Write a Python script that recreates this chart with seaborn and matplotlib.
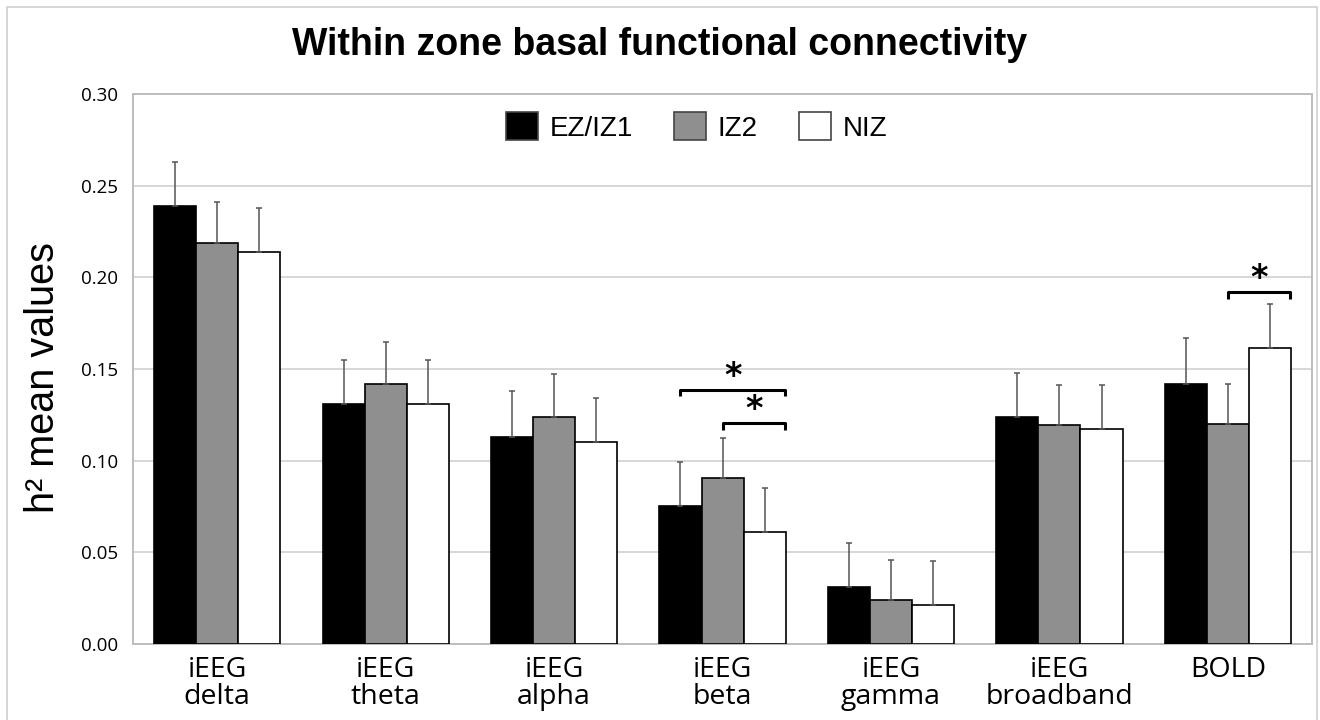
import matplotlib
matplotlib.use("Agg")
import matplotlib.pyplot as plt
import seaborn as sns
import pandas as pd
from matplotlib.patches import Rectangle

# Valores (h2 medio y error superior)
bandas = ['iEEG\ndelta', 'iEEG\ntheta', 'iEEG\nalpha', 'iEEG\nbeta',
          'iEEG\ngamma', 'iEEG\nbroadband', 'BOLD']
zonas = ['EZ/IZ1', 'IZ2', 'NIZ']

media_ez = [0.239, 0.131, 0.113, 0.0755, 0.031, 0.1237, 0.142]
media_iz2 = [0.219, 0.142, 0.124, 0.0905, 0.024, 0.1195, 0.120]
media_niz = [0.214, 0.131, 0.110, 0.061, 0.0215, 0.117, 0.1615]

error_ez = [0.024, 0.024, 0.025, 0.024, 0.024, 0.024, 0.025]
error_iz2 = [0.022, 0.023, 0.023, 0.022, 0.022, 0.022, 0.022]
error_niz = [0.024, 0.024, 0.024, 0.024, 0.024, 0.024, 0.024]

# Comparaciones significativas: (banda, zona desde, zona hasta, altura)
signif = [(3, 0, 2, 0.1386), (3, 1, 2, 0.1204), (6, 1, 2, 0.1918)]

colores = ['#000000', '#8f8f8f', '#ffffff']

df = pd.DataFrame({
    'Banda': bandas * 3,
    'Zona': [z for z in zonas for _ in bandas],
    'h2': media_ez + media_iz2 + media_niz,
})
errores = [error_ez, error_iz2, error_niz]

fig = plt.figure(figsize=(13.2, 7.2), dpi=100)
ax = fig.add_axes([0.1008, 0.1056, 0.8932, 0.7638])

sns.barplot(data=df, x='Banda', y='h2', hue='Zona', order=bandas, hue_order=zonas,
            palette=colores, edgecolor='black', linewidth=1.2, width=0.75,
            errorbar=None, ax=ax, zorder=3)

# barras de error solo hacia arriba
for cont, err in zip(ax.containers, errores):
    xs = [p.get_x() + p.get_width() / 2 for p in cont.patches]
    hs = [p.get_height() for p in cont.patches]
    ax.errorbar(xs, hs, yerr=[[0] * len(err), err], fmt='none', ecolor='#555555',
                elinewidth=1.1, capsize=2.5, capthick=1.1, zorder=4)

# corchetes con asterisco
for banda, z1, z2, y in signif:
    p1 = ax.containers[z1].patches[banda]
    p2 = ax.containers[z2].patches[banda]
    x1 = p1.get_x() + p1.get_width() / 2
    x2 = p2.get_x() + p2.get_width() - 0.004
    ax.plot([x1, x1, x2, x2], [y - 0.0035, y, y, y - 0.0035], color='black',
            lw=2.2, zorder=5, solid_capstyle='butt')
    ax.text((x1 + x2) / 2, y + 0.0075, '*', ha='center', va='center',
            fontsize=24, fontweight='bold', family='DejaVu Sans')

ax.set_ylim(0, 0.30)
ax.set_xlim(-0.5, len(bandas) - 0.5)
ax.set_yticks([0.0, 0.05, 0.10, 0.15, 0.20, 0.25, 0.30])
ax.set_yticklabels(['0.00', '0.05', '0.10', '0.15', '0.20', '0.25', '0.30'],
                   fontsize=13.5, family='Open Sans')
ax.set_xticklabels(bandas, fontsize=20.5, family='Open Sans', linespacing=0.92)
ax.tick_params(axis='both', length=0)
ax.tick_params(axis='y', pad=11)
ax.tick_params(axis='x', pad=9)
ax.grid(axis='y', color='#d4d4d4', linewidth=1.3, zorder=0)
ax.set_axisbelow(True)
for s in ax.spines.values():
    s.set_color('#bdbdbd')
    s.set_linewidth(1.4)

ax.set_xlabel('')
ax.set_ylabel('h² mean values', fontsize=28.5, family='Liberation Sans')
ax.yaxis.set_label_coords(-0.060, 0.4836)

leg = ax.legend(ncol=3, loc='center', bbox_to_anchor=(0.478, 0.94), frameon=False,
                handlelength=1.15, handleheight=1.15, columnspacing=1.5,
                handletextpad=0.4, prop={'family': 'Liberation Sans', 'size': 20})
for h in leg.legend_handles:
    h.set_edgecolor('#444444')

fig.text(0.5, 0.937, 'Within zone basal functional connectivity', ha='center',
         va='center', fontsize=27, fontweight='bold', family='Liberation Sans')

fig.patches.append(Rectangle((0.005, -0.01), 0.993, 1.0, transform=fig.transFigure,
                             fill=False, edgecolor='#d0d0d0', linewidth=1.2))

fig.savefig('out.png', dpi=100)
